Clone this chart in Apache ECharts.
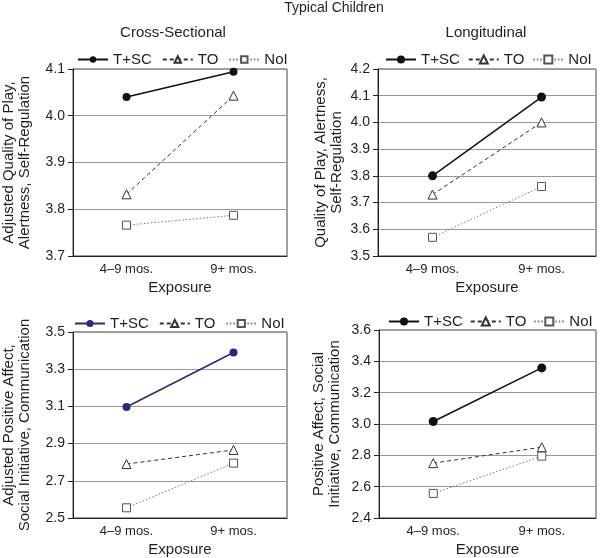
<!DOCTYPE html>
<html>
<head>
<meta charset="utf-8">
<script src="https://cdn.jsdelivr.net/npm/echarts@6/dist/echarts.min.js"></script>
<style>
  html, body { margin: 0; padding: 0; background: #fff; }
  #main { width: 600px; height: 558px; }
</style>
</head>
<body>
<div id="main"></div>
<script>
var myChart = echarts.init(document.getElementById('main'));

// categories
var exposure = ['4–9 mos.', '9+ mos.'];

// cross-sectional: quality of play
var csPlayTSC = [4.04, 4.094];
var csPlayTO = [3.832, 4.043];
var csPlayNoI = [3.766, 3.787];
// longitudinal: quality of play
var lgPlayTSC = [3.80, 4.095];
var lgPlayTO = [3.73, 4.00];
var lgPlayNoI = [3.57, 3.76];
// cross-sectional: positive affect
var csAffTSC = [3.097, 3.39];
var csAffTO = [2.79, 2.866];
var csAffNoI = [2.555, 2.795];
// longitudinal: positive affect
var lgAffTSC = [3.016, 3.358];
var lgAffTO = [2.75, 2.852];
var lgAffNoI = [2.557, 2.795];

var groups = ['T+SC', 'TO', 'NoI'];

var font = 'Liberation Sans, Arial, sans-serif';
var ink = '#231f20';

function seriesFor(idx, tsc, to, noi, tscColor, dot) {
  return [{
    name: 'T+SC#' + idx, type: 'line', xAxisIndex: idx, yAxisIndex: idx,
    data: tsc, symbol: 'circle', symbolSize: dot,
    itemStyle: {color: tscColor},
    lineStyle: {color: tscColor, width: 1.5},
    animation: false
  }, {
    name: 'TO#' + idx, type: 'line', xAxisIndex: idx, yAxisIndex: idx,
    data: to, symbol: 'triangle', symbolSize: 9,
    itemStyle: {color: '#fff', borderColor: '#333', borderWidth: 1},
    lineStyle: {color: '#333', width: 1, type: [4, 3]},
    animation: false
  }, {
    name: 'NoI#' + idx, type: 'line', xAxisIndex: idx, yAxisIndex: idx,
    data: noi, symbol: 'rect', symbolSize: 8,
    itemStyle: {color: '#fff', borderColor: '#555', borderWidth: 1},
    lineStyle: {color: '#777', width: 1, type: [1.5, 2]},
    animation: false
  }];
}

function legendFor(idx, left, top, h, gap) {
  return {
    left: left, top: top, itemWidth: 30, itemHeight: h, itemGap: gap, padding: 0,
    selectedMode: false,
    data: groups.map(function(g){ return g + '#' + idx; }),
    formatter: function(name){ return name.split('#')[0]; },
    textStyle: {fontFamily: font, fontSize: 15, color: ink}
  };
}

function yAxisFor(idx, min, max, step, name, gap) {
  return {
    gridIndex: idx, type: 'value', min: min, max: max, interval: step,
    name: name, nameLocation: 'middle', nameGap: gap,
    nameTextStyle: {fontFamily: font, fontSize: 15, color: ink, lineHeight: 16},
    axisLine: {show: true, lineStyle: {color: '#222'}},
    axisTick: {show: true, length: 5, lineStyle: {color: '#222'}},
    axisLabel: {fontFamily: font, fontSize: 14, color: ink, margin: 8,
      formatter: function(v){ return v.toFixed(1); }},
    splitLine: {lineStyle: {color: '#999'}}
  };
}

function xAxisFor(idx) {
  return {
    gridIndex: idx, type: 'category', data: exposure, boundaryGap: true,
    name: 'Exposure', nameLocation: 'middle', nameGap: 24,
    nameTextStyle: {fontFamily: font, fontSize: 15, color: ink},
    axisLine: {show: true, lineStyle: {color: '#222'}},
    axisTick: {show: false},
    axisLabel: {fontFamily: font, fontSize: 13, color: ink, margin: 7}
  };
}

option = {
  backgroundColor: '#fff',
  title: [
    {text: 'Typical Children', left: 334, top: 1, textAlign: 'center', padding: 0,
     textStyle: {fontFamily: font, fontSize: 14, fontWeight: 'normal', color: ink}},
    {text: 'Cross-Sectional', left: 173, top: 25, textAlign: 'center', padding: 0,
     textStyle: {fontFamily: font, fontSize: 15, fontWeight: 'normal', color: ink}},
    {text: 'Longitudinal', left: 486, top: 25, textAlign: 'center', padding: 0,
     textStyle: {fontFamily: font, fontSize: 15, fontWeight: 'normal', color: ink}}
  ],
  legend: [
    legendFor(0, 77, 52, 8, 10),
    legendFor(1, 385, 52, 10, 8),
    legendFor(2, 74, 316, 9, 10),
    legendFor(3, 388, 314, 10, 7)
  ],
  grid: [
    {left: 71, top: 69, width: 216, height: 187, show: true, borderColor: '#444', borderWidth: 1},
    {left: 378, top: 69, width: 218, height: 187, show: true, borderColor: '#444', borderWidth: 1},
    {left: 71, top: 332, width: 216, height: 186, show: true, borderColor: '#444', borderWidth: 1},
    {left: 379, top: 330, width: 217, height: 189, show: true, borderColor: '#444', borderWidth: 1}
  ],
  xAxis: [xAxisFor(0), xAxisFor(1), xAxisFor(2), xAxisFor(3)],
  yAxis: [
    yAxisFor(0, 3.7, 4.1, 0.1, 'Adjusted Quality of Play,\nAlertness, Self-Regulation', 40),
    yAxisFor(1, 3.5, 4.2, 0.1, 'Quality of Play, Alertness,\nSelf-Regulation', 33),
    yAxisFor(2, 2.5, 3.5, 0.2, 'Adjusted Positive Affect,\nSocial Initiative, Communication', 40),
    yAxisFor(3, 2.4, 3.6, 0.2, 'Positive Affect, Social\nInitiative, Communication', 36)
  ],
  series: [].concat(
    seriesFor(0, csPlayTSC, csPlayTO, csPlayNoI, '#111', 8),
    seriesFor(1, lgPlayTSC, lgPlayTO, lgPlayNoI, '#111', 9),
    seriesFor(2, csAffTSC, csAffTO, csAffNoI, '#262b78', 8),
    seriesFor(3, lgAffTSC, lgAffTO, lgAffNoI, '#111', 9)
  )
};

myChart.setOption(option);
</script>
</body>
</html>
